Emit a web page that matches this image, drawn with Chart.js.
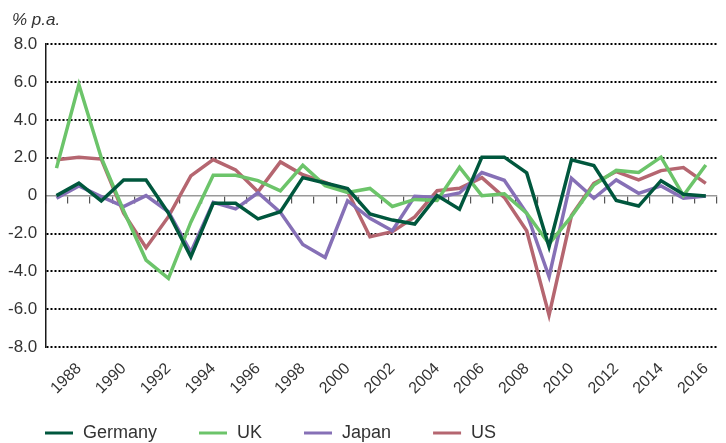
<!DOCTYPE html>
<html>
<head>
<meta charset="utf-8">
<script src="https://cdn.jsdelivr.net/npm/chart.js@4/dist/chart.umd.min.js"></script>
<style>
  html, body { margin: 0; padding: 0; background: #fff; }
  #wrap { width: 726px; height: 443px; }
</style>
</head>
<body>
<div id="wrap"><canvas id="chart"></canvas></div>
<script>
// years on the x axis, only even years get a label
const years = ['1987','1988','1989','1990','1991','1992','1993','1994','1995','1996',
  '1997','1998','1999','2000','2001','2002','2003','2004','2005','2006',
  '2007','2008','2009','2010','2011','2012','2013','2014','2015','2016'];

const germany = [0.0, 0.66, -0.28, 0.83, 0.83, -0.92, -3.23, -0.4, -0.4, -1.23,
  -0.85, 0.95, 0.67, 0.37, -0.97, -1.29, -1.5, 0.0, -0.72, 2.03,
  2.03, 1.2, -2.7, 1.89, 1.59, -0.26, -0.55, 0.79, 0.07, -0.02];
const uk = [1.45, 5.86, 2.0, -0.8, -3.4, -4.37, -1.4, 1.07, 1.07, 0.79,
  0.25, 1.6, 0.53, 0.17, 0.38, -0.57, -0.2, -0.25, 1.5, 0.0,
  0.1, -0.93, -2.55, -1.1, 0.56, 1.33, 1.22, 2.03, 0.0, 1.62];
const japan = [-0.14, 0.51, -0.05, -0.58, 0.0, -0.85, -2.98, -0.35, -0.7, 0.15,
  -0.88, -2.58, -3.26, -0.27, -1.2, -1.85, -0.03, -0.1, 0.14, 1.22,
  0.81, -0.93, -4.28, 0.92, -0.14, 0.83, 0.12, 0.51, -0.14, -0.02];
const us = [1.89, 2.03, 1.93, -0.93, -2.75, -1.11, 1.04, 1.9, 1.36, 0.2,
  1.78, 1.1, 0.7, 0.23, -2.17, -1.9, -1.12, 0.26, 0.39, 0.95,
  -0.09, -1.85, -6.31, -1.05, 0.65, 1.27, 0.83, 1.32, 1.48, 0.65];

const yTickLabels = ['-8.0', '-6.0', '-4.0', '-2.0', '0', '2.0', '4.0', '6.0', '8.0'];
const unitLabel = '% p.a.';

const FONT = '"Liberation Sans", Arial, sans-serif';
const TEXT = '#333333';

// draws the "% p.a." caption and the legend (line samples) under the axis
const captionAndLegend = {
    id: 'captionAndLegend',
    afterDraw(chart) {
        const ctx = chart.ctx;
        ctx.save();
        ctx.fillStyle = TEXT;
        ctx.textBaseline = 'middle';
        ctx.font = 'italic 17px ' + FONT;
        ctx.fillText(unitLabel, 12, 20);

        ctx.font = '18px ' + FONT;
        let x = 45;
        const y = 433;
        chart.data.datasets.forEach(ds => {
            ctx.strokeStyle = ds.borderColor;
            ctx.lineWidth = 3;
            ctx.beginPath();
            ctx.moveTo(x, y);
            ctx.lineTo(x + 28, y);
            ctx.stroke();
            ctx.fillStyle = TEXT;
            ctx.fillText(ds.label, x + 38, y);
            x += 38 + ctx.measureText(ds.label).width + 42;
        });
        ctx.restore();
    }
};

const ctx = document.getElementById('chart').getContext('2d');
const myChart = new Chart(ctx, {
    type: 'line',
    data: {
        labels: years,
        datasets: [
            { label: 'Germany', data: germany, borderColor: '#00573d' },
            { label: 'UK', data: uk, borderColor: '#6cc46a' },
            { label: 'Japan', data: japan, borderColor: '#8670b6' },
            { label: 'US', data: us, borderColor: '#b56670' },
        ].map(d => Object.assign(d, {
            borderWidth: 3.5,
            pointRadius: 0,
            tension: 0,
            fill: false,
        })),
    },
    options: {
        responsive: true,
        maintainAspectRatio: false,
        animation: false,
        layout: { padding: { left: 0, right: 9, top: 44, bottom: 41 } },
        plugins: {
            legend: { display: false },
            tooltip: { enabled: false },
        },
        scales: {
            x: {
                type: 'category',
                offset: true,
                grid: { display: false },
                border: { display: false },
                ticks: {
                    autoSkip: false,
                    maxRotation: 45,
                    minRotation: 45,
                    padding: 4,
                    color: TEXT,
                    font: { family: FONT, size: 16 },
                    callback: (val, i) => (i % 2 === 1 ? years[i] : ''),
                },
            },
            // zero line with the small year ticks
            x2: {
                type: 'category',
                labels: years,
                offset: true,
                position: { y: 0 },
                grid: {
                    offset: true,
                    drawOnChartArea: false,
                    drawTicks: true,
                    tickLength: 7,
                    color: '#555555',
                    lineWidth: 1.2,
                },
                border: { display: true, color: '#9a9a9a', width: 1.5 },
                ticks: { display: false, autoSkip: false },
            },
            y: {
                min: -8,
                max: 8,
                grid: {
                    drawTicks: false,
                    color: c => (c.tick && c.tick.value === 0 ? 'rgba(0,0,0,0)' : '#000000'),
                    lineWidth: 2,
                },
                border: { display: true, color: '#1a1a1a', width: 1.5, dash: [2, 2] },
                ticks: {
                    stepSize: 2,
                    padding: 8,
                    color: TEXT,
                    font: { family: FONT, size: 17 },
                    callback: (val, i) => yTickLabels[i],
                },
            },
        },
    },
    plugins: [captionAndLegend],
});
</script>
</body>
</html>
